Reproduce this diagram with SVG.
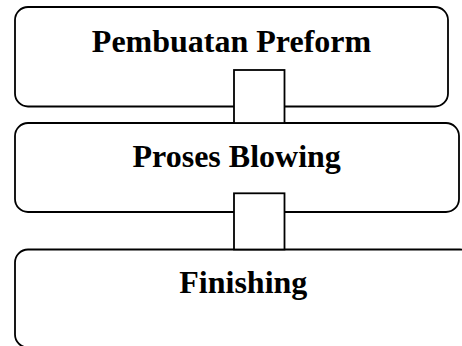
<svg xmlns="http://www.w3.org/2000/svg" width="462" height="346" viewBox="0 0 462 346">
<style>
.box{fill:#fff;stroke:#000;stroke-width:1.8}
.conn{fill:#fff;stroke:#000;stroke-width:1.8}
.lbl{font-family:"Liberation Serif","Times New Roman",serif;font-weight:bold;font-size:32px;fill:#000;text-anchor:middle}
</style>
<rect width="462" height="346" fill="#fff"/>
<g id="node-pembuatan-preform">
<rect class="box" x="15" y="7" width="433" height="99.5" rx="13" ry="13"/>
<text class="lbl" x="231.5" y="52">Pembuatan Preform</text>
</g>
<g id="node-proses-blowing">
<rect class="box" x="15" y="123" width="444" height="89" rx="13" ry="13"/>
<text class="lbl" x="236.7" y="167.3">Proses Blowing</text>
</g>
<g id="node-finishing">
<rect class="box" x="15" y="249.5" width="458" height="98" rx="13" ry="13"/>
<text class="lbl" x="243.3" y="292.7">Finishing</text>
</g>
<g id="connectors">
<rect class="conn" x="234" y="70" width="50.5" height="53"/>
<rect class="conn" x="234" y="193.3" width="50.5" height="56.2"/>
</g>
</svg>
